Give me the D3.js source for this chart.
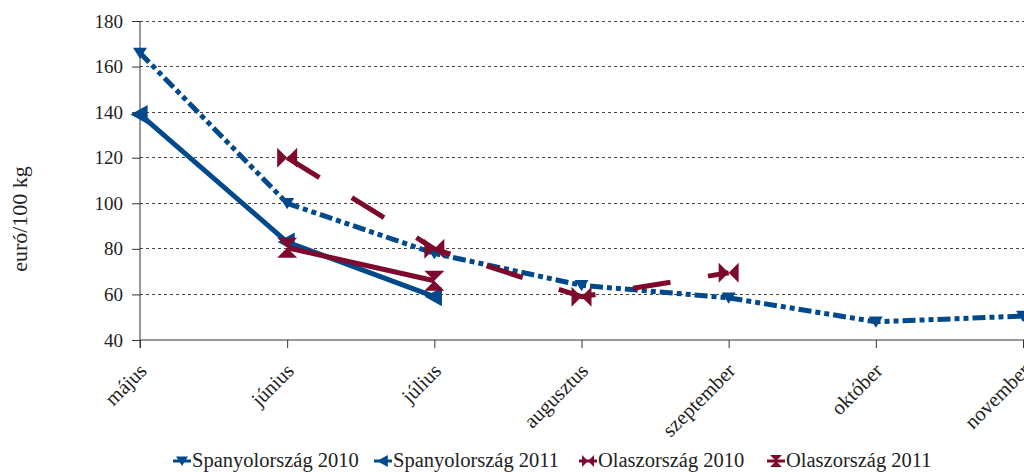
<!DOCTYPE html>
<html><head><meta charset="utf-8">
<script src="https://cdn.jsdelivr.net/npm/d3@7"></script>
<style>
html,body{margin:0;padding:0;background:#fff;}
svg{display:block;}
svg text{font-family:"Liberation Serif","DejaVu Serif",serif;}
</style></head>
<body><svg id="c" width="1024" height="472"></svg>
<script>
const months = ["május","június","július","augusztus","szeptember","október","november"];
const yTicks = [40,60,80,100,120,140,160,180];
const yTitle = "euró/100 kg";
const seriesNames = ["Spanyolország 2010","Spanyolország 2011","Olaszország 2010","Olaszország 2011"];
const spain2010 = [166, 100, 78, 64, 58.5, 48, 50.5];
const spain2011 = [139, 83, 59, null, null, null, null];
const italy2010 = [null, 120, 80, 59, 69.5, null, null];
const italy2011 = [null, 80.5, 66, null, null, null, null];

const blue = "#004a8c", red = "#7d0a2c";
const FF = "Liberation Serif, DejaVu Serif, serif";
const styles = [
  {color: blue, dash: "13,4,5,4,5,4", marker: "triDown"},
  {color: blue, dash: null, marker: "triLeft"},
  {color: red, dash: "38,38", marker: "bowH"},
  {color: red, dash: null, marker: "bowV"}
];
const allSeries = [spain2010, spain2011, italy2010, italy2011];

const svg = d3.select("#c");
const x = d3.scalePoint().domain(months).range([140, 1023]);
const y = d3.scaleLinear().domain([40, 180]).range([340, 21]);

// grid
svg.append("g").selectAll("line").data(yTicks.filter(d => d > 40)).join("line")
  .attr("x1", 140).attr("x2", 1024).attr("y1", d => y(d)).attr("y2", d => y(d))
  .attr("stroke", "#444").attr("stroke-width", 1).attr("stroke-dasharray", "3,3")
  .attr("shape-rendering", "crispEdges");

// y axis
const ya = svg.append("g").attr("transform", "translate(140,0)")
  .call(d3.axisLeft(y).tickValues(yTicks).tickSize(8).tickPadding(9).tickFormat(d3.format("d")));
ya.attr("font-family", FF);
ya.select(".domain").attr("stroke", "#333").attr("d", "M0,21V348");
ya.selectAll(".tick line").attr("stroke", "#333");
ya.selectAll("text").attr("font-family", FF).attr("font-size", 19).attr("fill", "#222");

// x axis
const xa = svg.append("g").attr("transform", "translate(0,340)")
  .call(d3.axisBottom(x).tickSize(8).tickFormat(""));
xa.select(".domain").attr("stroke", "#333").attr("d", "M140,0H1024");
xa.selectAll(".tick line").attr("stroke", "#333");
svg.append("g").selectAll("text").data(months).join("text")
  .attr("transform", d => `translate(${x(d) + 8},372) rotate(-45)`)
  .attr("text-anchor", "end").attr("font-family", FF).attr("font-size", 20.5).attr("fill", "#222")
  .text(d => d);

// y title
svg.append("text").attr("transform", "translate(27,219) rotate(-90)")
  .attr("text-anchor", "middle").attr("font-family", FF).attr("font-size", 22).attr("fill", "#222").text(yTitle);

function markerPath(type, s) {
  const h = s / 2;
  switch (type) {
    case "triDown": return `M${-h},${-h*0.75}L${h},${-h*0.75}L0,${h*0.85}Z`;
    case "triLeft": return `M${-h*1.0},0L${h*0.8},${-h}L${h*0.8},${h}Z`;
    case "bowH": return `M${-h},${-h}L0,0L${-h},${h}Z M${h},${-h}L0,0L${h},${h}Z`;
    case "bowV": return `M${-h},${-h}L${h},${-h}L0,0Z M${-h},${h}L${h},${h}L0,0Z`;
  }
}
const markerSizes = {triDown: 14, triLeft: 19, bowH: 20, bowV: 20};

allSeries.forEach((vals, i) => {
  const st = styles[i];
  const pts = months.map((m, j) => ({m, v: vals[j]})).filter(p => p.v != null);
  const line = d3.line().x(p => x(p.m)).y(p => y(p.v));
  const g = svg.append("g");
  g.append("path").attr("d", line(pts)).attr("fill", "none")
    .attr("stroke", st.color).attr("stroke-width", 5)
    .attr("stroke-dasharray", st.dash).attr("stroke-linejoin", "round");
  g.selectAll("path.mk").data(pts).join("path").attr("class", "mk")
    .attr("transform", p => `translate(${x(p.m)},${y(p.v)})`)
    .attr("d", markerPath(st.marker, markerSizes[st.marker]))
    .attr("fill", st.color);
});

// legend
const legX = [182, 383, 588, 776];
const legY = 461;
const leg = svg.append("g");
seriesNames.forEach((name, i) => {
  const st = styles[i];
  const gi = leg.append("g").attr("transform", `translate(${legX[i]},${legY})`);
  gi.append("line").attr("x1", -9).attr("x2", 9).attr("y1", 0).attr("y2", 0)
    .attr("stroke", st.color).attr("stroke-width", 3);
  gi.append("path").attr("d", markerPath(st.marker, 12)).attr("fill", st.color);
  gi.append("text").attr("x", 10).attr("y", 6).attr("font-family", FF).attr("font-size", 20.5).attr("fill", "#222").text(name);
});
</script></body></html>
